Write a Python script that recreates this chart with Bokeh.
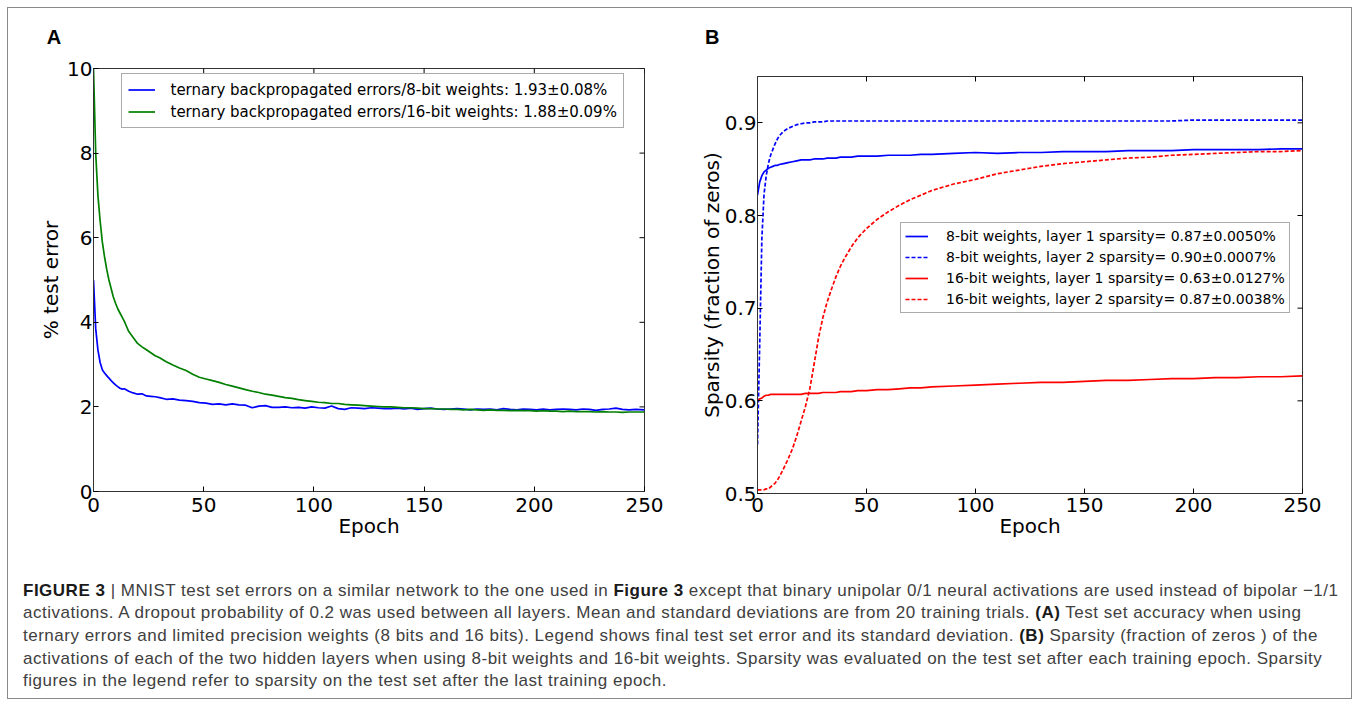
import math
from bokeh.plotting import figure
from bokeh.models import Range1d, FixedTicker, Legend, LegendItem, Div
from bokeh.layouts import row, column
from bokeh.embed import file_html
from bokeh.resources import INLINE

# ---------------- data ----------------
# Panel A: % test error vs epoch
epochs_a = [0, 1, 2, 3, 4, 5, 6, 7, 8, 9, 10, 11, 12, 13, 14, 15, 16,
            18, 20, 22, 24, 26, 28, 30,
            33, 36, 39, 42, 45, 48, 51, 54, 57, 60, 63, 66, 69, 72, 75, 78,
            81, 84, 87, 90, 93, 96, 99, 102, 105, 108, 111, 114, 117, 120,
            123, 126, 129, 132, 135, 138, 141, 144, 147, 150, 153, 156, 159,
            162, 165, 168, 171, 174, 177, 180, 183, 186, 189, 192, 195, 198,
            201, 204, 207, 210, 213, 216, 219, 222, 225, 228, 231, 234, 237,
            240, 243, 246, 250]
err_8bit = [5.00, 3.85, 3.35, 3.05, 2.88, 2.80, 2.74, 2.68, 2.62, 2.57, 2.52, 2.48, 2.44, 2.42, 2.43, 2.40, 2.37,
            2.33, 2.30, 2.31, 2.26, 2.25, 2.24, 2.22,
            2.18, 2.19, 2.16, 2.15, 2.13, 2.10, 2.09, 2.06, 2.07, 2.05, 2.07, 2.05, 2.04, 1.98, 2.02, 2.03,
            1.99, 1.99, 2.00, 1.98, 1.99, 1.97, 2.00, 1.98, 1.97, 2.02, 1.96, 1.94, 1.98, 1.97,
            1.96, 1.98, 1.97, 1.96, 1.96, 1.97, 1.95, 1.97, 1.94, 1.96, 1.97, 1.95, 1.94,
            1.95, 1.96, 1.95, 1.93, 1.95, 1.94, 1.95, 1.93, 1.96, 1.94, 1.93, 1.95, 1.94,
            1.93, 1.95, 1.93, 1.94, 1.95, 1.94, 1.93, 1.95, 1.94, 1.92, 1.94, 1.95, 1.97,
            1.94, 1.93, 1.94, 1.93]
err_16bit = [10.0, 8.00, 7.00, 6.40, 5.90, 5.55, 5.25, 5.00, 4.80, 4.60, 4.45, 4.32, 4.22, 4.12, 4.02, 3.90, 3.78,
             3.64, 3.50, 3.42, 3.35, 3.28, 3.21, 3.16,
             3.07, 2.99, 2.92, 2.86, 2.77, 2.70, 2.66, 2.62, 2.58, 2.53, 2.49, 2.45, 2.41, 2.37, 2.34, 2.30,
             2.28, 2.25, 2.22, 2.20, 2.17, 2.15, 2.13, 2.11, 2.10, 2.08, 2.08, 2.06, 2.05, 2.04,
             2.03, 2.02, 2.01, 2.00, 2.00, 1.99, 1.98, 1.98, 1.97, 1.96, 1.96, 1.95, 1.95,
             1.94, 1.94, 1.93, 1.94, 1.93, 1.92, 1.93, 1.92, 1.92, 1.91, 1.92, 1.91, 1.91,
             1.90, 1.91, 1.90, 1.90, 1.89, 1.90, 1.89, 1.89, 1.89, 1.88, 1.89, 1.88, 1.88,
             1.87, 1.88, 1.88, 1.88]

# Panel B: sparsity vs epoch
epochs_b = [0, 1, 2, 3, 4, 5, 6, 7, 8, 9, 10, 12, 14, 16, 18, 20, 22, 24, 26, 28,
            30, 32, 34, 36, 38, 40, 43, 46, 50, 55, 60, 65, 70, 75, 80, 90, 100,
            110, 120, 130, 140, 150, 160, 170, 180, 190, 200, 210, 220, 230, 240, 250]
sp_8bit_l1 = [0.822, 0.836, 0.843, 0.847, 0.849, 0.851, 0.852, 0.853, 0.854, 0.854, 0.855, 0.856, 0.857, 0.858, 0.859, 0.860, 0.860, 0.860, 0.861, 0.861,
              0.861, 0.862, 0.862, 0.862, 0.863, 0.863, 0.863, 0.864, 0.864, 0.864, 0.865, 0.865, 0.865, 0.866, 0.866, 0.867, 0.868,
              0.867, 0.868, 0.868, 0.869, 0.869, 0.869, 0.870, 0.870, 0.870, 0.871, 0.871, 0.871, 0.871, 0.872, 0.872]
sp_8bit_l2 = [0.553, 0.660, 0.775, 0.823, 0.843, 0.856, 0.865, 0.871, 0.877, 0.882, 0.886, 0.891, 0.894, 0.896, 0.898, 0.899, 0.900, 0.900, 0.901, 0.901,
              0.901, 0.902, 0.902, 0.902, 0.902, 0.902, 0.902, 0.902, 0.902, 0.902, 0.902, 0.902, 0.902, 0.902, 0.902, 0.902, 0.902,
              0.902, 0.902, 0.902, 0.902, 0.902, 0.902, 0.902, 0.902, 0.902, 0.903, 0.903, 0.903, 0.903, 0.903, 0.903]
sp_16bit_l1 = [0.600, 0.602, 0.603, 0.605, 0.606, 0.606, 0.607, 0.607, 0.607, 0.607, 0.607, 0.607, 0.607, 0.607, 0.607, 0.607, 0.608, 0.608, 0.608, 0.608,
               0.609, 0.609, 0.609, 0.609, 0.610, 0.610, 0.610, 0.611, 0.611, 0.612, 0.612, 0.613, 0.614, 0.614, 0.615, 0.616, 0.617,
               0.618, 0.619, 0.620, 0.620, 0.621, 0.622, 0.622, 0.623, 0.624, 0.624, 0.625, 0.625, 0.626, 0.626, 0.627]
sp_16bit_l2 = [0.504, 0.504, 0.504, 0.504, 0.505, 0.505, 0.507, 0.509, 0.511, 0.514, 0.518, 0.527, 0.537, 0.548, 0.562, 0.578, 0.594, 0.613, 0.640, 0.668,
               0.690, 0.707, 0.721, 0.734, 0.745, 0.754, 0.766, 0.776, 0.786, 0.796, 0.804, 0.811, 0.817, 0.822, 0.827, 0.834, 0.839,
               0.845, 0.849, 0.853, 0.856, 0.858, 0.860, 0.862, 0.863, 0.865, 0.866, 0.867, 0.868, 0.869, 0.869, 0.870]

legend_a = ["ternary backpropagated errors/8-bit weights: 1.93\u00b10.08%",
            "ternary backpropagated errors/16-bit weights: 1.88\u00b10.09%"]
legend_b = ["8-bit weights, layer 1 sparsity= 0.87\u00b10.0050%",
            "8-bit weights, layer 2 sparsity= 0.90\u00b10.0007%",
            "16-bit weights, layer 1 sparsity= 0.63\u00b10.0127%",
            "16-bit weights, layer 2 sparsity= 0.87\u00b10.0038%"]
x_ticks = [0, 50, 100, 150, 200, 250]
ya_ticks = [0, 2, 4, 6, 8, 10]
yb_ticks = [0.5, 0.6, 0.7, 0.8, 0.9]

FONT = "DejaVu Sans"
SPINE = "#333333"


def style_axis(ax, ticks):
    ax.ticker = FixedTicker(ticks=ticks)
    ax.major_tick_in = 5
    ax.major_tick_out = 0
    ax.major_tick_line_color = "black"
    ax.minor_tick_line_color = None
    ax.axis_line_color = SPINE
    ax.major_label_text_font = FONT
    ax.major_label_text_color = "black"
    ax.major_label_text_font_size = "20px"
    ax.axis_label_text_font = FONT
    ax.axis_label_text_font_size = "20px"
    ax.axis_label_text_font_style = "normal"
    ax.axis_label_text_color = "black"


def make_fig(width, height, x_range, y_range, yticks, borders, x_label_standoff):
    left, right, top, bottom = borders
    p = figure(width=width, height=height, x_range=x_range, y_range=y_range,
               output_backend="svg", toolbar_location=None, title=None,
               min_border_left=left, min_border_right=right,
               min_border_top=top, min_border_bottom=bottom,
               background_fill_color="white", border_fill_color="white", margin=0)
    p.grid.visible = False
    p.outline_line_color = SPINE
    p.outline_line_width = 1
    style_axis(p.xaxis[0], x_ticks)
    style_axis(p.yaxis[0], yticks)
    p.xaxis[0].axis_label = "Epoch"
    p.xaxis[0].major_label_standoff = x_label_standoff
    p.xaxis[0].axis_label_standoff = -1
    # mirrored inward ticks on the top and right spines
    p.scatter(x_ticks, [y_range.end] * len(x_ticks), marker="dash", angle=math.pi / 2,
              size=10, line_color="black", line_width=1)
    p.scatter([x_range.end] * len(yticks), yticks, marker="dash",
              size=10, line_color="black", line_width=1)
    return p


def panel_letter(letter, width, pad_left):
    html = ('<div style="padding:18.7px 0 0 %.1fpx; font-family:\'Liberation Sans\', Arial, sans-serif; '
            'font-weight:bold; font-size:20px; line-height:20px; color:#000;">%s</div>' % (pad_left, letter))
    return Div(text=html, width=width, height=50, margin=0)


legend_style = dict(margin=0, label_text_font=FONT, label_text_color="black",
                    border_line_color="#555555", border_line_width=1,
                    background_fill_color="white", background_fill_alpha=1)

# ---------------- panel A ----------------
pA = make_fig(681, 490, Range1d(0, 250), Range1d(0, 10), ya_ticks, (85, 45, 10, 57), 6)
pA.yaxis[0].axis_label = "% test error"
pA.yaxis[0].major_label_standoff = 1
pA.yaxis[0].axis_label_standoff = 1
ra1 = pA.line(epochs_a, err_8bit, line_color="#0000ff", line_width=1.7)
ra2 = pA.line(epochs_a, err_16bit, line_color="#008000", line_width=1.7)
legA = Legend(items=[LegendItem(label=legend_a[0], renderers=[ra1]),
                     LegendItem(label=legend_a[1], renderers=[ra2])],
              location=(27.5, 363), padding=6, spacing=3,
              glyph_width=27, glyph_height=19, label_height=19, label_standoff=16,
              label_text_font_size="15px", **legend_style)
pA.add_layout(legA)

# ---------------- panel B ----------------
pB = make_fig(662, 490, Range1d(0, 250), Range1d(0.5, 0.95), yb_ticks, (68, 49, 18, 55), 4)
pB.yaxis[0].axis_label = "Sparsity (fraction of zeros)"
pB.yaxis[0].major_label_standoff = 1
pB.yaxis[0].axis_label_standoff = -2
rb1 = pB.line(epochs_b, sp_8bit_l1, line_color="#0000ff", line_width=1.7)
rb2 = pB.line(epochs_b, sp_8bit_l2, line_color="#0000ff", line_width=1.7, line_dash="4 2")
rb3 = pB.line(epochs_b, sp_16bit_l1, line_color="#ff0000", line_width=1.7)
rb4 = pB.line(epochs_b, sp_16bit_l2, line_color="#ff0000", line_width=1.7, line_dash="4 2")
legB = Legend(items=[LegendItem(label=legend_b[i], renderers=[r])
                     for i, r in enumerate([rb1, rb2, rb3, rb4])],
              location=(143, 180.5), padding=4, spacing=3,
              glyph_width=23, glyph_height=18, label_height=18, label_standoff=18,
              label_text_font_size="14px", **legend_style)
pB.add_layout(legB)

# ---------------- caption ----------------
caption = (
    '<div style="padding:31.5px 0 0 15px; font-family:\'Liberation Sans\', Arial, sans-serif; '
    'font-size:17px; letter-spacing:0.5px; line-height:22.7px; color:#404040; white-space:nowrap;">'
    '<b style="color:#1a1a1a">FIGURE 3</b> | MNIST test set errors on a similar network to the one used in '
    '<b style="color:#1a1a1a">Figure 3</b> except that binary unipolar 0/1 neural activations are used instead of bipolar \u22121/1<br>'
    'activations. A dropout probability of 0.2 was used between all layers. Mean and standard deviations are from 20 training trials. '
    '<b style="color:#1a1a1a">(A)</b> Test set accuracy when using<br>'
    'ternary errors and limited precision weights (8 bits and 16 bits). Legend shows final test set error and its standard deviation. '
    '<b style="color:#1a1a1a">(B)</b> Sparsity (fraction of zeros ) of the<br>'
    'activations of each of the two hidden layers when using 8-bit weights and 16-bit weights. Sparsity was evaluated on the test set after each training epoch. Sparsity<br>'
    'figures in the legend refer to sparsity on the test set after the last training epoch.'
    '</div>'
)
div = Div(text=caption, width=1343, height=150, margin=0)

colA = column(panel_letter("A", 681, 38.8), pA, spacing=0)
colB = column(panel_letter("B", 662, 16), pB, spacing=0)

layout = column(row(colA, colB, spacing=0), div, margin=(7, 0, 0, 7), spacing=0,
                styles={"border": "1px solid #8a8a8a"})

open("out.html", "w").write(file_html(layout, INLINE))
